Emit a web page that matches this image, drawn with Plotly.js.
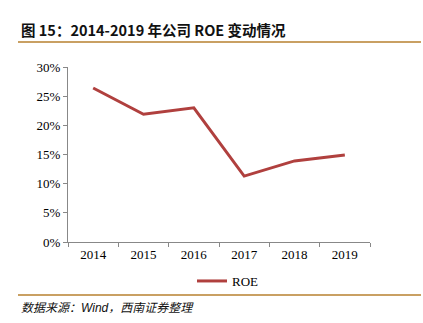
<!DOCTYPE html>
<html><head><meta charset="utf-8">
<script src="https://cdn.plot.ly/plotly-3.0.1.min.js"></script>
<style>html,body{margin:0;padding:0;background:#fff;}#chart{width:423px;height:323px;}</style>
</head><body><div id="chart"></div>
<script>
const years = ['2014','2015','2016','2017','2018','2019'];
const roe = [0.264, 0.219, 0.230, 0.113, 0.139, 0.149];
const yTicks = [0, 0.05, 0.10, 0.15, 0.20, 0.25, 0.30];
const yTickText = ['0%','5%','10%','15%','20%','25%','30%'];

const L = 68, R = 370, T = 67, B = 242;
const W = R - L, H = B - T;
const px = x => (x - L) / W;
const py = y => (B - y) / H;

const trace = {
  x: years, y: roe, type: 'scatter', mode: 'lines', name: 'ROE',
  line: {color: '#B0403E', width: 3}
};
const layout = {
  width: 423, height: 323,
  margin: {l: L, r: 423 - R, t: T, b: 323 - B},
  paper_bgcolor: '#fff', plot_bgcolor: '#fff',
  font: {family: '"Liberation Serif", "Times New Roman", serif', size: 13, color: '#000'},
  showlegend: true,
  legend: {orientation: 'h', x: px(228), xanchor: 'center', y: py(281), yanchor: 'middle',
           font: {family: '"Liberation Serif", serif', size: 13, color: '#000'}, bgcolor: 'rgba(0,0,0,0)'},
  xaxis: {type: 'category', range: [-0.5, 5.5], showgrid: false, zeroline: false, showline: true, linecolor: '#888', linewidth: 1,
          ticks: 'outside', tickson: 'boundaries', ticklen: 4, tickcolor: '#888',
          tickfont: {family: '"Liberation Serif", serif', size: 13}},
  yaxis: {range: [0, 0.30], tickvals: yTicks, ticktext: yTickText, showgrid: false, zeroline: false,
          showline: true, linecolor: '#888', linewidth: 1, ticks: 'outside', ticklen: 4, tickcolor: '#888',
          tickfont: {family: '"Liberation Serif", serif', size: 13}},
  shapes: [
    {type: 'line', xref: 'paper', yref: 'paper', x0: px(18), x1: px(421), y0: py(42), y1: py(42),
     line: {color: '#C9A063', width: 2}},
    {type: 'line', xref: 'paper', yref: 'paper', x0: px(18), x1: px(421), y0: py(295), y1: py(295),
     line: {color: '#C9A063', width: 2}}
  ],
  annotations: [
    {text: '<b>图 15：2014-2019 年公司 ROE 变动情况</b>', xref: 'paper', yref: 'paper', x: px(19), y: py(29),
     xanchor: 'left', yanchor: 'middle', showarrow: false,
     font: {family: '"Noto Sans CJK SC", "Liberation Sans", sans-serif', size: 14.5, color: '#111'}},
    {text: '<i>数据来源：Wind，西南证券整理</i>', xref: 'paper', yref: 'paper', x: px(19), y: py(308),
     xanchor: 'left', yanchor: 'middle', showarrow: false,
     font: {family: '"Liberation Sans", "Noto Sans CJK SC", sans-serif', size: 12, color: '#111'}}
  ]
};
Plotly.newPlot('chart', [trace], layout, {displayModeBar: false, staticPlot: true});
</script></body></html>
